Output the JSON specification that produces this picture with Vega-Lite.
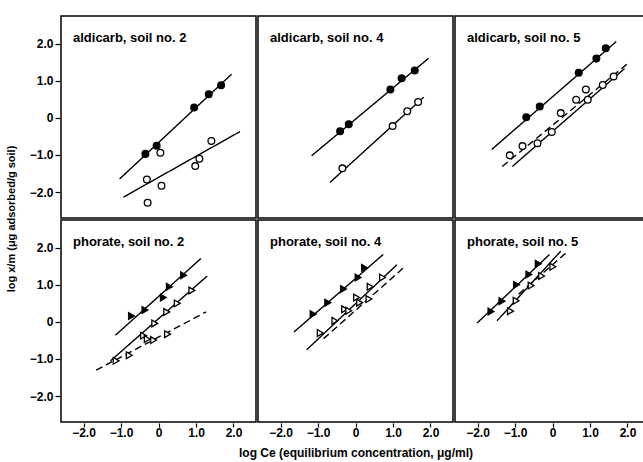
{
  "$schema": "https://vega.github.io/schema/vega-lite/v6.json",
  "padding": {"left": 5, "top": 15, "right": 2, "bottom": 2},
  "background": "white",
  "data": {"values": [
    {"pest":"aldicarb","soil":2,"kind":"label","title":"aldicarb, soil no. 2"},
    {"pest":"aldicarb","soil":4,"kind":"label","title":"aldicarb, soil no. 4"},
    {"pest":"aldicarb","soil":5,"kind":"label","title":"aldicarb, soil no. 5"},
    {"pest":"phorate","soil":2,"kind":"label","title":"phorate, soil no. 2"},
    {"pest":"phorate","soil":4,"kind":"label","title":"phorate, soil no. 4"},
    {"pest":"phorate","soil":5,"kind":"label","title":"phorate, soil no. 5"},

    {"pest":"aldicarb","soil":2,"kind":"pt","series":"A","x":-0.35,"y":-0.97},
    {"pest":"aldicarb","soil":2,"kind":"pt","series":"A","x":-0.05,"y":-0.75},
    {"pest":"aldicarb","soil":2,"kind":"pt","series":"A","x":0.95,"y":0.28},
    {"pest":"aldicarb","soil":2,"kind":"pt","series":"A","x":1.34,"y":0.64},
    {"pest":"aldicarb","soil":2,"kind":"pt","series":"A","x":1.67,"y":0.88},
    {"pest":"aldicarb","soil":2,"kind":"ln","series":"A","x":-1.04,"y":-1.65},
    {"pest":"aldicarb","soil":2,"kind":"ln","series":"A","x":1.95,"y":1.18},
    {"pest":"aldicarb","soil":2,"kind":"pt","series":"B","x":0.05,"y":-0.94},
    {"pest":"aldicarb","soil":2,"kind":"pt","series":"B","x":-0.31,"y":-1.66},
    {"pest":"aldicarb","soil":2,"kind":"pt","series":"B","x":0.08,"y":-1.83},
    {"pest":"aldicarb","soil":2,"kind":"pt","series":"B","x":-0.29,"y":-2.29},
    {"pest":"aldicarb","soil":2,"kind":"pt","series":"B","x":0.98,"y":-1.3},
    {"pest":"aldicarb","soil":2,"kind":"pt","series":"B","x":1.09,"y":-1.1},
    {"pest":"aldicarb","soil":2,"kind":"pt","series":"B","x":1.41,"y":-0.62},
    {"pest":"aldicarb","soil":2,"kind":"ln","series":"B","x":-0.94,"y":-2.14},
    {"pest":"aldicarb","soil":2,"kind":"ln","series":"B","x":2.17,"y":-0.37},

    {"pest":"aldicarb","soil":4,"kind":"pt","series":"A","x":-0.41,"y":-0.36},
    {"pest":"aldicarb","soil":4,"kind":"pt","series":"A","x":-0.18,"y":-0.17},
    {"pest":"aldicarb","soil":4,"kind":"pt","series":"A","x":0.93,"y":0.77},
    {"pest":"aldicarb","soil":4,"kind":"pt","series":"A","x":1.23,"y":1.07},
    {"pest":"aldicarb","soil":4,"kind":"pt","series":"A","x":1.58,"y":1.28},
    {"pest":"aldicarb","soil":4,"kind":"ln","series":"A","x":-1.17,"y":-1.02},
    {"pest":"aldicarb","soil":4,"kind":"ln","series":"A","x":1.95,"y":1.61},
    {"pest":"aldicarb","soil":4,"kind":"pt","series":"B","x":-0.35,"y":-1.36},
    {"pest":"aldicarb","soil":4,"kind":"pt","series":"B","x":0.99,"y":-0.22},
    {"pest":"aldicarb","soil":4,"kind":"pt","series":"B","x":1.38,"y":0.18},
    {"pest":"aldicarb","soil":4,"kind":"pt","series":"B","x":1.67,"y":0.43},
    {"pest":"aldicarb","soil":4,"kind":"ln","series":"B","x":-0.68,"y":-1.74},
    {"pest":"aldicarb","soil":4,"kind":"ln","series":"B","x":1.82,"y":0.56},

    {"pest":"aldicarb","soil":5,"kind":"pt","series":"A","x":-0.70,"y":0.02},
    {"pest":"aldicarb","soil":5,"kind":"pt","series":"A","x":-0.34,"y":0.31},
    {"pest":"aldicarb","soil":5,"kind":"pt","series":"A","x":0.70,"y":1.22},
    {"pest":"aldicarb","soil":5,"kind":"pt","series":"A","x":1.17,"y":1.60},
    {"pest":"aldicarb","soil":5,"kind":"pt","series":"A","x":1.42,"y":1.88},
    {"pest":"aldicarb","soil":5,"kind":"ln","series":"A","x":-1.62,"y":-0.85},
    {"pest":"aldicarb","soil":5,"kind":"ln","series":"A","x":1.70,"y":2.06},
    {"pest":"aldicarb","soil":5,"kind":"pt","series":"B","x":-0.40,"y":-0.68},
    {"pest":"aldicarb","soil":5,"kind":"pt","series":"B","x":-0.02,"y":-0.38},
    {"pest":"aldicarb","soil":5,"kind":"pt","series":"B","x":0.94,"y":0.49},
    {"pest":"aldicarb","soil":5,"kind":"pt","series":"B","x":1.34,"y":0.89},
    {"pest":"aldicarb","soil":5,"kind":"ln","series":"B","x":-1.07,"y":-1.31},
    {"pest":"aldicarb","soil":5,"kind":"ln","series":"B","x":1.92,"y":1.33},
    {"pest":"aldicarb","soil":5,"kind":"pt","series":"C","x":-1.14,"y":-1.01},
    {"pest":"aldicarb","soil":5,"kind":"pt","series":"C","x":-0.80,"y":-0.76},
    {"pest":"aldicarb","soil":5,"kind":"pt","series":"C","x":0.22,"y":0.13},
    {"pest":"aldicarb","soil":5,"kind":"pt","series":"C","x":0.63,"y":0.49},
    {"pest":"aldicarb","soil":5,"kind":"pt","series":"C","x":0.89,"y":0.77},
    {"pest":"aldicarb","soil":5,"kind":"pt","series":"C","x":1.63,"y":1.12},
    {"pest":"aldicarb","soil":5,"kind":"ln","series":"C","x":-1.34,"y":-1.31},
    {"pest":"aldicarb","soil":5,"kind":"ln","series":"C","x":2.01,"y":1.47},

    {"pest":"phorate","soil":2,"kind":"pt","series":"A","x":-0.72,"y":0.16},
    {"pest":"phorate","soil":2,"kind":"pt","series":"A","x":-0.36,"y":0.32},
    {"pest":"phorate","soil":2,"kind":"pt","series":"A","x":0.13,"y":0.66},
    {"pest":"phorate","soil":2,"kind":"pt","series":"A","x":0.29,"y":0.95},
    {"pest":"phorate","soil":2,"kind":"pt","series":"A","x":0.67,"y":1.26},
    {"pest":"phorate","soil":2,"kind":"ln","series":"A","x":-1.15,"y":-0.36},
    {"pest":"phorate","soil":2,"kind":"ln","series":"A","x":1.13,"y":1.71},
    {"pest":"phorate","soil":2,"kind":"pt","series":"B","x":-0.40,"y":-0.37},
    {"pest":"phorate","soil":2,"kind":"pt","series":"B","x":-0.10,"y":-0.04},
    {"pest":"phorate","soil":2,"kind":"pt","series":"B","x":0.22,"y":0.27},
    {"pest":"phorate","soil":2,"kind":"pt","series":"B","x":0.50,"y":0.50},
    {"pest":"phorate","soil":2,"kind":"pt","series":"B","x":0.89,"y":0.85},
    {"pest":"phorate","soil":2,"kind":"ln","series":"B","x":-1.28,"y":-1.05},
    {"pest":"phorate","soil":2,"kind":"ln","series":"B","x":1.30,"y":1.24},
    {"pest":"phorate","soil":2,"kind":"pt","series":"C","x":-1.13,"y":-1.05},
    {"pest":"phorate","soil":2,"kind":"pt","series":"C","x":-0.78,"y":-0.90},
    {"pest":"phorate","soil":2,"kind":"pt","series":"C","x":-0.30,"y":-0.46},
    {"pest":"phorate","soil":2,"kind":"pt","series":"C","x":-0.13,"y":-0.49},
    {"pest":"phorate","soil":2,"kind":"pt","series":"C","x":0.24,"y":-0.33},
    {"pest":"phorate","soil":2,"kind":"ln","series":"C","x":-1.66,"y":-1.30},
    {"pest":"phorate","soil":2,"kind":"ln","series":"C","x":1.27,"y":0.27},

    {"pest":"phorate","soil":4,"kind":"pt","series":"A","x":-1.13,"y":0.21},
    {"pest":"phorate","soil":4,"kind":"pt","series":"A","x":-0.74,"y":0.52},
    {"pest":"phorate","soil":4,"kind":"pt","series":"A","x":-0.32,"y":0.89},
    {"pest":"phorate","soil":4,"kind":"pt","series":"A","x":0.07,"y":1.20},
    {"pest":"phorate","soil":4,"kind":"pt","series":"A","x":0.24,"y":1.46},
    {"pest":"phorate","soil":4,"kind":"ln","series":"A","x":-1.64,"y":-0.27},
    {"pest":"phorate","soil":4,"kind":"ln","series":"A","x":0.74,"y":1.82},
    {"pest":"phorate","soil":4,"kind":"pt","series":"B","x":-0.94,"y":-0.30},
    {"pest":"phorate","soil":4,"kind":"pt","series":"B","x":-0.55,"y":0.03},
    {"pest":"phorate","soil":4,"kind":"pt","series":"B","x":-0.29,"y":0.34},
    {"pest":"phorate","soil":4,"kind":"pt","series":"B","x":0.03,"y":0.66},
    {"pest":"phorate","soil":4,"kind":"pt","series":"B","x":0.39,"y":0.95},
    {"pest":"phorate","soil":4,"kind":"pt","series":"B","x":0.72,"y":1.20},
    {"pest":"phorate","soil":4,"kind":"ln","series":"B","x":-1.30,"y":-0.75},
    {"pest":"phorate","soil":4,"kind":"ln","series":"B","x":1.10,"y":1.54},
    {"pest":"phorate","soil":4,"kind":"pt","series":"C","x":-0.18,"y":0.30},
    {"pest":"phorate","soil":4,"kind":"pt","series":"C","x":0.11,"y":0.52},
    {"pest":"phorate","soil":4,"kind":"pt","series":"C","x":0.36,"y":0.62},
    {"pest":"phorate","soil":4,"kind":"ln","series":"C","x":-0.85,"y":-0.45},
    {"pest":"phorate","soil":4,"kind":"ln","series":"C","x":1.27,"y":1.45},

    {"pest":"phorate","soil":5,"kind":"pt","series":"A","x":-1.64,"y":0.28},
    {"pest":"phorate","soil":5,"kind":"pt","series":"A","x":-1.35,"y":0.56},
    {"pest":"phorate","soil":5,"kind":"pt","series":"A","x":-0.96,"y":1.00},
    {"pest":"phorate","soil":5,"kind":"pt","series":"A","x":-0.63,"y":1.28},
    {"pest":"phorate","soil":5,"kind":"pt","series":"A","x":-0.38,"y":1.57},
    {"pest":"phorate","soil":5,"kind":"ln","series":"A","x":-2.01,"y":-0.03},
    {"pest":"phorate","soil":5,"kind":"ln","series":"A","x":-0.08,"y":1.82},
    {"pest":"phorate","soil":5,"kind":"pt","series":"B","x":-1.12,"y":0.29},
    {"pest":"phorate","soil":5,"kind":"pt","series":"B","x":-0.97,"y":0.57},
    {"pest":"phorate","soil":5,"kind":"pt","series":"B","x":-0.57,"y":0.98},
    {"pest":"phorate","soil":5,"kind":"pt","series":"B","x":-0.29,"y":1.24},
    {"pest":"phorate","soil":5,"kind":"pt","series":"B","x":0.01,"y":1.49},
    {"pest":"phorate","soil":5,"kind":"ln","series":"B","x":-1.48,"y":0.03},
    {"pest":"phorate","soil":5,"kind":"ln","series":"B","x":0.22,"y":1.91},
    {"pest":"phorate","soil":5,"kind":"ln","series":"C","x":-0.90,"y":0.75},
    {"pest":"phorate","soil":5,"kind":"ln","series":"C","x":0.38,"y":1.88}
  ]},
  "facet": {
    "row": {"field": "pest", "type": "nominal", "sort": ["aldicarb", "phorate"],
      "header": {"labels": false, "title": "log x/m (μg adsorbed/g soil)", "titleOrient": "left", "titleFontSize": 11, "titleFont": "Liberation Sans", "titleFontWeight": "bold", "titleColor": "black", "titlePadding": 2}},
    "column": {"field": "soil", "type": "ordinal", "sort": [2, 4, 5],
      "header": {"labels": false, "title": "log Ce (equilibrium concentration,  μg/ml)", "titleOrient": "bottom", "titleFontSize": 12, "titleFont": "Liberation Sans", "titleFontWeight": "bold", "titleColor": "black", "titlePadding": 0}}
  },
  "spacing": {"row": 0, "column": 0},
  "spec": {
    "width": 195,
    "height": 202,
    "layer": [
      {
        "transform": [{"filter": "datum.kind === 'ln'"}],
        "mark": {"type": "line", "color": "black", "strokeWidth": 1.4, "clip": true},
        "encoding": {
          "x": {"field": "x", "type": "quantitative", "scale": {"domain": [-2.6, 2.6], "nice": false, "zero": false},
            "axis": {"values": [-2, -1, 0, 1, 2], "labelExpr": "datum.value == 0 ? '0' : format(datum.value, '.1f')", "title": null}},
          "y": {"field": "y", "type": "quantitative", "scale": {"domain": [-2.7, 2.75], "nice": false, "zero": false},
            "axis": {"values": [-2, -1, 0, 1, 2], "labelExpr": "datum.value == 0 ? '0' : format(datum.value, '.1f')", "title": null}},
          "detail": {"field": "series"},
          "strokeDash": {"field": "series", "type": "nominal", "scale": {"domain": ["A", "B", "C"], "range": [[1, 0], [1, 0], [7, 4]]}, "legend": null}
        }
      },
      {
        "transform": [{"filter": "datum.kind === 'pt'"}],
        "mark": {"type": "point", "stroke": "black", "strokeWidth": 1.3, "opacity": 1, "size": 45},
        "encoding": {
          "x": {"field": "x", "type": "quantitative"},
          "y": {"field": "y", "type": "quantitative"},
          "shape": {"field": "pest", "type": "nominal", "scale": {"domain": ["aldicarb", "phorate"], "range": ["circle", "triangle-right"]}, "legend": null},
          "fill": {"field": "series", "type": "nominal", "scale": {"domain": ["A", "B", "C"], "range": ["black", "white", "white"]}, "legend": null}
        }
      },
      {
        "transform": [{"filter": "datum.kind === 'label'"}],
        "mark": {"type": "text", "align": "left", "baseline": "middle", "font": "Liberation Sans", "fontSize": 13, "fontWeight": "bold", "color": "black"},
        "encoding": {
          "x": {"datum": -2.28},
          "y": {"datum": 2.15},
          "text": {"field": "title"}
        }
      }
    ]
  },
  "config": {
    "view": {"stroke": "black", "strokeWidth": 1.5},
    "axis": {"grid": false, "domain": false, "tickColor": "black", "tickSize": 5, "tickWidth": 1.2, "labelColor": "black", "labelFont": "Liberation Sans", "labelFontSize": 12, "labelFontWeight": "bold", "labelPadding": 2},
    "axisX": {"labelPadding": 0, "tickSize": 4}
  }
}
